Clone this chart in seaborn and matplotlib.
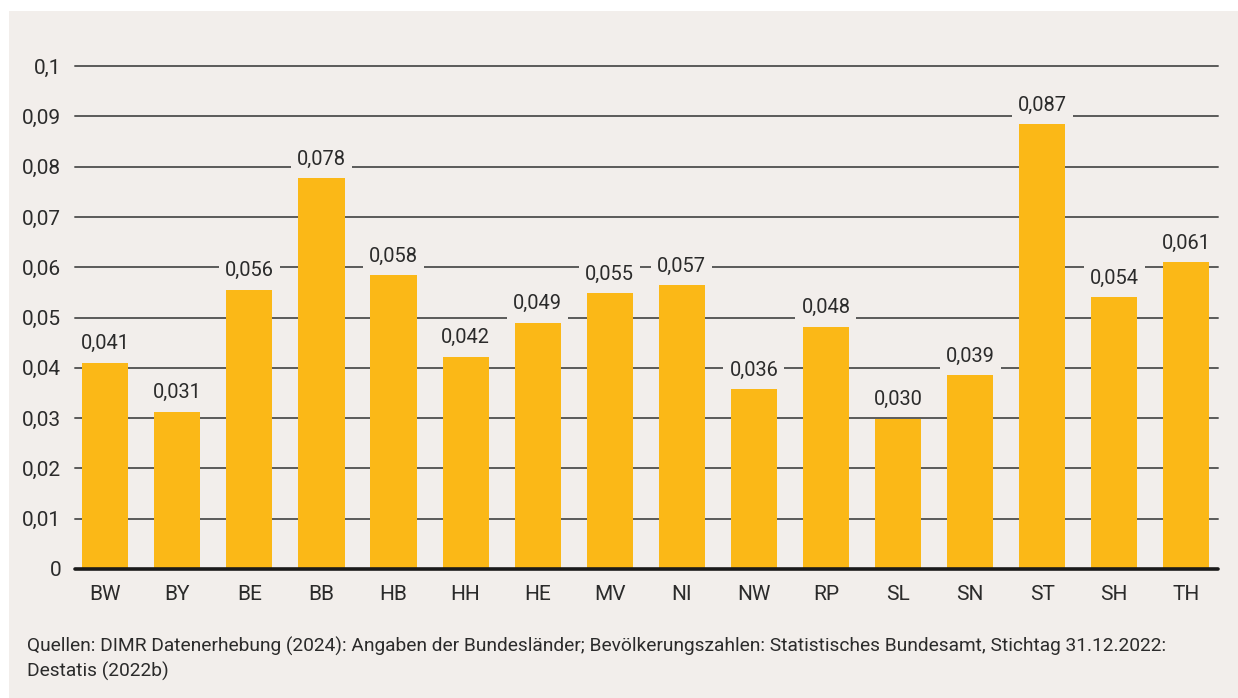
import matplotlib
matplotlib.use("Agg")
import matplotlib.pyplot as plt
import matplotlib.patches as mpatches
import seaborn as sns
import pandas as pd

# ---- data ----
categories = ["BW", "BY", "BE", "BB", "HB", "HH", "HE", "MV", "NI", "NW", "RP", "SL", "SN", "ST", "SH", "TH"]
values = [0.041, 0.0312, 0.0555, 0.0777, 0.0584, 0.0422, 0.049, 0.0548, 0.0564, 0.0357, 0.0482, 0.0299, 0.0385, 0.0884, 0.054, 0.061]
value_labels = ["0,041", "0,031", "0,056", "0,078", "0,058", "0,042", "0,049", "0,055", "0,057", "0,036", "0,048", "0,030", "0,039", "0,087", "0,054", "0,061"]
y_ticks = [0, 0.01, 0.02, 0.03, 0.04, 0.05, 0.06, 0.07, 0.08, 0.09, 0.1]
y_tick_labels = ["0", "0,01", "0,02", "0,03", "0,04", "0,05", "0,06", "0,07", "0,08", "0,09", "0,1"]
source_text = ("Quellen: DIMR Datenerhebung (2024): Angaben der Bundesländer; Bevölkerungszahlen: Statistisches Bundesamt, Stichtag 31.12.2022:\n"
               "Destatis (2022b)")

BG = "#f2eeeb"
BAR = "#fbb817"
TXT = "#2b2b2b"
GRID = "#5a5a5a"

sns.set_theme(style="white")
plt.rcParams["font.family"] = ["Roboto", "DejaVu Sans"]

W, H = 1238, 698
fig = plt.figure(figsize=(W / 100, H / 100), dpi=100, facecolor="white")
fig.patches.append(mpatches.Rectangle((9 / W, 0), 1 - 9 / W, 1 - 11 / H, transform=fig.transFigure,
                                      facecolor=BG, edgecolor="none", zorder=-10))

left, right = 75 / W, 1218 / W
bottom, top = 1 - 569 / H, 1 - 66 / H
ax = fig.add_axes([left, bottom, right - left, top - bottom])
ax.set_facecolor("none")

df = pd.DataFrame({"cat": categories, "val": values})
sns.barplot(data=df, x="cat", y="val", color=BAR, saturation=1, width=0.64, ax=ax, zorder=3,
            linewidth=0, edgecolor="none")

ax.set_xlim(-0.42, 15.44)
ax.set_ylim(0, 0.1)

# gridlines
for t in y_ticks[1:]:
    ax.axhline(t, color=GRID, lw=1.4, zorder=1, clip_on=False)
ax.axhline(0, color="#1a1a1a", lw=2.6, zorder=4, clip_on=False)

for s in ax.spines.values():
    s.set_visible(False)

ax.set_yticks(y_ticks)
ax.set_yticklabels(y_tick_labels)
ax.tick_params(axis="y", length=0, pad=10, labelsize=15, labelcolor=TXT)
ax.tick_params(axis="x", length=0, pad=11.5, labelsize=15, labelcolor=TXT)
ax.set_xlabel("")
ax.set_ylabel("")

for i, (v, lab) in enumerate(zip(values, value_labels)):
    ax.annotate(lab, (i, v), xytext=(0, 7), textcoords="offset points", ha="center", va="bottom",
                fontsize=14.4, color=TXT, zorder=5,
                bbox=dict(boxstyle="square,pad=0.3", facecolor=BG, edgecolor="none"))

fig.text(27 / W, 1 - 659 / H, source_text, ha="left", va="center", fontsize=13.8, color=TXT, linespacing=1.4)

fig.savefig("out.png", dpi=100, facecolor="white")
